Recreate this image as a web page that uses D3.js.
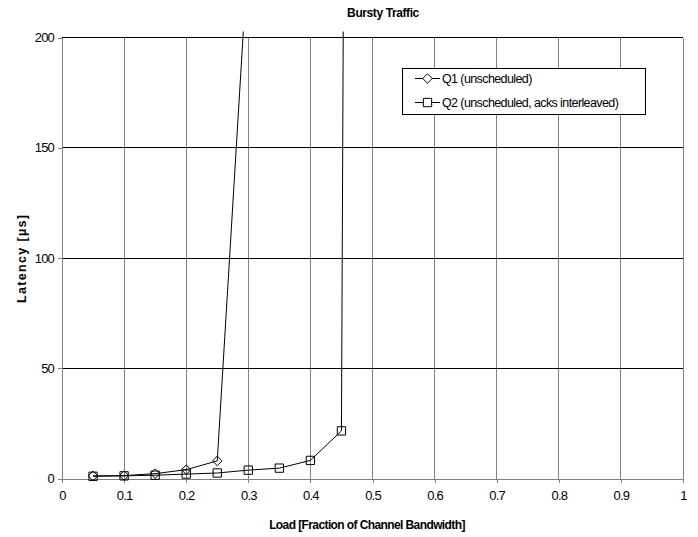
<!DOCTYPE html>
<html>
<head>
<meta charset="utf-8">
<script src="https://cdn.jsdelivr.net/npm/d3@7"></script>
<style>
  body { margin: 0; background: #fff; }
  svg { font-family: Arial, "Liberation Sans", sans-serif; }
</style>
</head>
<body>
<div id="chart"></div>
<script>
// Bursty traffic latency chart

const loadsQ1 = [0.05, 0.1, 0.15, 0.2, 0.25, 0.3];
const latencyQ1 = [1.2, 1.3, 2.2, 4.0, 8.0, 240];
const loadsQ2 = [0.05, 0.1, 0.15, 0.2, 0.25, 0.3, 0.35, 0.4, 0.45, 0.5];
const latencyQ2 = [1.0, 1.2, 1.5, 2.0, 2.5, 3.8, 4.7, 8.2, 21.6, 3200];
const xTicks = [0, 0.1, 0.2, 0.3, 0.4, 0.5, 0.6, 0.7, 0.8, 0.9, 1];
const yTicks = [0, 50, 100, 150, 200];
const seriesNames = ["Q1 (unscheduled)", "Q2 (unscheduled, acks interleaved)"];

const W = 698, H = 537;
const pLeft = 62, pRight = 683, pTop = 37.5, pBottom = 478.5;

const svg = d3.select("#chart").append("svg").attr("width", W).attr("height", H);

const x = d3.scaleLinear().domain([0, 1]).range([pLeft, pRight]);
const y = d3.scaleLinear().domain([0, 200]).range([pBottom, pTop]);

// gridlines
svg.append("g").selectAll("line").data(xTicks.slice(1)).join("line")
  .attr("x1", d => x(d)).attr("x2", d => x(d))
  .attr("y1", pTop).attr("y2", pBottom)
  .attr("stroke", "#808080").attr("stroke-width", 1).attr("shape-rendering", "crispEdges");
svg.append("g").selectAll("line").data(yTicks.slice(1)).join("line")
  .attr("x1", pLeft).attr("x2", pRight)
  .attr("y1", d => y(d)).attr("y2", d => y(d))
  .attr("stroke", "#000").attr("stroke-width", 1).attr("shape-rendering", "crispEdges");

// axes
const xAxis = svg.append("g").attr("transform", `translate(0,${pBottom})`)
  .call(d3.axisBottom(x).tickValues(xTicks).tickSize(4).tickSizeOuter(0).tickPadding(8)
    .tickFormat(d => d === 0 || d === 1 ? d3.format("d")(d) : d3.format(".1f")(d)));
const yAxis = svg.append("g").attr("transform", `translate(${pLeft},0)`)
  .call(d3.axisLeft(y).tickValues(yTicks).tickSize(4).tickSizeOuter(0).tickPadding(4));
[xAxis, yAxis].forEach(a => {
  a.select(".domain").attr("stroke", "#808080").attr("shape-rendering", "crispEdges");
  a.selectAll(".tick line").attr("stroke", "#808080").attr("shape-rendering", "crispEdges");
  a.selectAll("text").attr("fill", "#000").style("font-size", "13px").style("letter-spacing", "-0.8px");
});

// lines, clipped to a bit above plot area
svg.append("clipPath").attr("id", "clip").append("rect")
  .attr("x", pLeft).attr("y", pTop - 6).attr("width", pRight - pLeft).attr("height", pBottom - pTop + 6);

const line = d3.line().x(d => x(d[0])).y(d => y(d[1]));
const q1 = d3.zip(loadsQ1, latencyQ1);
const q2 = d3.zip(loadsQ2, latencyQ2);

const plot = svg.append("g").attr("clip-path", "url(#clip)");
[q1, q2].forEach(s => plot.append("path").datum(s).attr("d", line)
  .attr("fill", "none").attr("stroke", "#000").attr("stroke-width", 1));

const diamond = d3.symbol().type(d3.symbolDiamond2).size(58);
const square = d3.symbol().type(d3.symbolSquare2).size(88);

svg.append("g").selectAll("path").data(q2.filter(d => d[1] <= 200)).join("path")
  .attr("transform", d => `translate(${x(d[0])},${y(d[1])})`)
  .attr("d", square).attr("fill", "none").attr("stroke", "#000");
svg.append("g").selectAll("path").data(q1.filter(d => d[1] <= 200)).join("path")
  .attr("transform", d => `translate(${x(d[0])},${y(d[1])})`)
  .attr("d", diamond).attr("fill", "none").attr("stroke", "#000");

// titles
svg.append("text").attr("x", 383).attr("y", 17).attr("text-anchor", "middle")
  .style("font-size", "12px").style("font-weight", "bold").style("letter-spacing", "-0.4px")
  .text("Bursty Traffic");
svg.append("text").attr("x", 367).attr("y", 529).attr("text-anchor", "middle")
  .style("font-size", "12px").style("font-weight", "bold").style("letter-spacing", "-0.6px")
  .text("Load [Fraction of Channel Bandwidth]");
svg.append("text").attr("transform", `translate(26,259) rotate(-90)`).attr("text-anchor", "middle")
  .style("font-size", "12.5px").style("font-weight", "bold")
  .attr("textLength", 88).attr("lengthAdjust", "spacing")
  .text("Latency [µs]");

// legend
const lg = svg.append("g").attr("transform", "translate(402,68.5)");
lg.append("rect").attr("width", 243).attr("height", 46)
  .attr("fill", "#fff").attr("stroke", "#000").attr("shape-rendering", "crispEdges");
const items = lg.selectAll("g").data(seriesNames).join("g")
  .attr("transform", (d, i) => `translate(0,${10 + i * 24})`);
items.append("line").attr("x1", 13).attr("x2", 38).attr("stroke", "#000");
items.append("path").attr("transform", "translate(25.5,0)")
  .attr("d", (d, i) => i === 0 ? diamond() : square()).attr("fill", "#fff").attr("stroke", "#000");
items.append("text").attr("x", 40).attr("dy", "0.35em")
  .style("font-size", "12.5px").style("letter-spacing", "-0.6px").text(d => d);
</script>
</body>
</html>
